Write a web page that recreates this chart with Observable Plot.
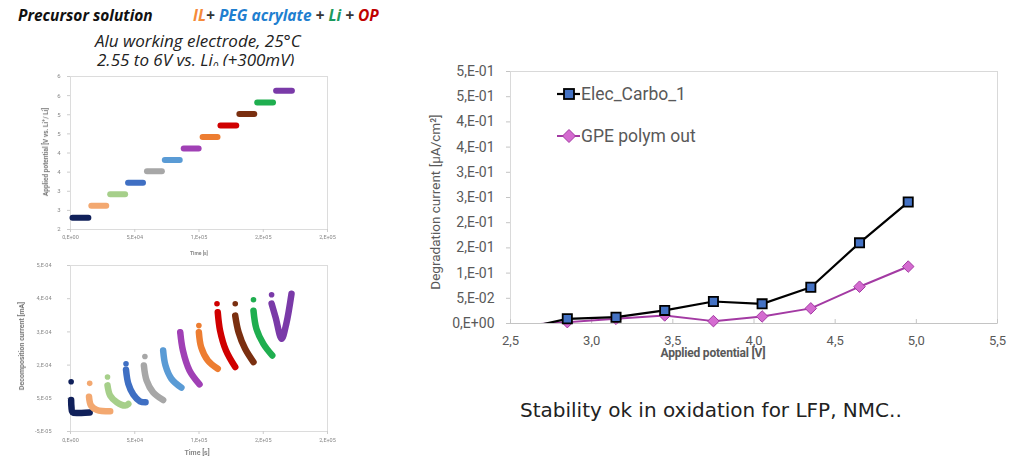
<!DOCTYPE html>
<html><head><meta charset="utf-8">
<script src="https://cdn.jsdelivr.net/npm/d3@7"></script>
<script src="https://cdn.jsdelivr.net/npm/@observablehq/plot@0.6"></script>
<style>
body{margin:0;background:#fff;}
#page{position:relative;width:1022px;height:462px;overflow:hidden;font-family:Roboto,sans-serif;background:#fff;}
.abs{position:absolute;white-space:nowrap;}
.blur{filter:blur(0.45px);}
</style></head><body><div id="page"></div>
<script>
// ---------- Main chart data ----------
const potentials = [2.55, 2.85, 3.15, 3.45, 3.75, 4.05, 4.35, 4.65, 4.95];
const elecCarbo  = [-0.012, 0.0093, 0.0125, 0.026, 0.0437, 0.039, 0.072, 0.160, 0.241];
const gpePolym   = [-0.004, 0.0027, 0.0093, 0.016, 0.0047, 0.014, 0.030, 0.073, 0.113];
const seriesNames = ["Elec_Carbo_1", "GPE polym out"];
const yTicks = [0, 0.05, 0.1, 0.15, 0.2, 0.25, 0.3, 0.35, 0.4, 0.45, 0.5];
const yTickLabels = ["0,E+00","5,E-02","1,E-01","2,E-01","2,E-01","3,E-01","3,E-01","4,E-01","4,E-01","5,E-01","5,E-01"];
const xTicks = [2.5, 3.0, 3.5, 4.0, 4.5, 5.0, 5.5];
const xTickLabels = ["2,5","3,0","3,5","4,0","4,5","5,0","5,5"];

// ---------- Left top chart data (potential steps) ----------
const stepPotentials = [2.31, 2.62, 2.92, 3.22, 3.52, 3.82, 4.12, 4.42, 4.72, 5.02, 5.32, 5.63];
const stepStart = [1550, 16200, 30900, 44800, 59500, 73400, 88100, 102800, 116700, 131400, 145300, 160000];
const stepEnd   = [13900, 27800, 42500, 56400, 71100, 85000, 99700, 114400, 129000, 143000, 157600, 172300];
const stepColors = ["#10205a","#f3a870","#a6cf8a","#3f6fc3","#a7a7a7","#5a9bd5","#a040b5","#ed7d31","#d00000","#7a2f10","#1fae4f","#7a3aa8"];
const potTicks = [2, 2.5, 3, 3.5, 4, 4.5, 5, 5.5, 6];
const potTickLabels = ["2","3","3","4","4","5","5","6","6"];
const timeTicks = [0, 50000, 100000, 150000, 200000];
const timeTickLabels = ["0,E+00","5,E+04","1,E+05","2,E+05","2,E+05"];

// ---------- Left bottom chart data (decomposition current) ----------
const spikeTimes    = [500, 14930, 28800, 43200, 57900, 72100, 85400, 99900, 114000, 128200, 142400, 156500];
const spikeCurrents = [1.0e-4, 9.5e-5, 1.14e-4, 1.54e-4, 1.76e-4, 1.94e-4, 2.49e-4, 2.69e-4, 3.35e-4, 3.35e-4, 3.47e-4, 3.62e-4];
const decayTimes = [
  [500, 770, 1540, 7720, 14930],
  [14400, 16000, 20600, 30900],
  [28800, 30900, 36000, 42500, 45000],
  [43200, 45000, 48900, 54000, 58400],
  [57100, 59200, 64300, 72100],
  [72100, 73900, 78500, 86300],
  [85400, 87500, 92600, 100400],
  [99900, 101700, 106900, 114600],
  [114600, 116400, 121000, 128200],
  [128200, 130800, 135900, 142400],
  [142400, 144700, 150100, 157000],
  [156500, 159600, 164300, 167900, 172000]
];
const decayCurrents = [
  [4.5e-5, 2.3e-5, 8e-6, 6e-6, 7e-6],
  [5.5e-5, 2.8e-5, 1.5e-5, 1.1e-5],
  [8.9e-5, 5.8e-5, 3.8e-5, 2.8e-5, 3.3e-5],
  [1.36e-4, 9.4e-5, 6.1e-5, 4.1e-5, 3.8e-5],
  [1.49e-4, 1.04e-4, 6.8e-5, 4.5e-5],
  [1.94e-4, 1.49e-4, 1.09e-4, 8.2e-5],
  [2.49e-4, 1.94e-4, 1.34e-4, 9.2e-5],
  [2.49e-4, 2.04e-4, 1.64e-4, 1.39e-4],
  [3.09e-4, 2.54e-4, 1.94e-4, 1.44e-4],
  [2.99e-4, 2.49e-4, 1.99e-4, 1.59e-4],
  [3.14e-4, 2.59e-4, 2.14e-4, 1.79e-4],
  [3.35e-4, 2.94e-4, 2.29e-4, 2.74e-4, 3.65e-4]
];
const curTicks = [-5e-5, 5e-5, 1.5e-4, 2.5e-4, 3.5e-4, 4.5e-4];
const curTickLabels = ["-5,E-05","5,E-05","2,E-04","3,E-04","4,E-04","5,E-04"];

const page = document.getElementById("page");
function place(el, left, top) { el.style.position = "absolute"; el.style.left = left + "px"; el.style.top = top + "px"; page.appendChild(el); return el; }
function txt(html, left, top, css) { const d = document.createElement("div"); d.className = "abs"; d.innerHTML = html; d.style.cssText += css; return place(d, left, top); }

// ---------- Header ----------
txt('Precursor solution', 18, 6, "font-family:'Open Sans';font-weight:700;font-style:italic;font-size:15.5px;line-height:18px;color:#111;");
txt('<span style="color:#f58a3a">IL</span><span style="color:#333">+ </span><span style="color:#1f7fd0">PEG acrylate</span><span style="color:#333"> + </span><span style="color:#1a9a5c">Li</span><span style="color:#333"> + </span><span style="color:#c00000">OP</span>', 193, 6, "font-family:'Open Sans';font-weight:700;font-style:italic;font-size:15.5px;line-height:18px;");
txt('Alu working electrode, 25°C', 95, 32, "font-family:'Open Sans';font-style:italic;font-size:17px;line-height:18px;color:#222;");
txt('2.55 to 6V vs. Li<sub style="font-size:10px;line-height:0">0</sub> (+300mV)', 97, 51, "font-family:'Open Sans';font-style:italic;font-size:17px;line-height:18px;color:#222;");

// ---------- Left top chart ----------
const steps = stepPotentials.map((p, i) => ({p, t1: stepStart[i], t2: stepEnd[i], c: stepColors[i]}));
const potMap = new Map(potTicks.map((d, i) => [d, potTickLabels[i]]));
const timeMap = new Map(timeTicks.map((d, i) => [d, timeTickLabels[i]]));
const topChart = Plot.plot({
  width: 340, height: 195, marginLeft: 70, marginRight: 13, marginTop: 10, marginBottom: 32,
  x: {domain: [0, 200000]}, y: {domain: [2, 6]}, color: {type: "identity"},
  style: {fontFamily: "Roboto", background: "#fff"},
  marks: [
    Plot.frame({stroke: "#dcdcdc"}),
    Plot.axisY(potTicks, {tickFormat: d => potMap.get(d), tickSize: 3, tickPadding: 7, fontSize: 6, stroke: "#ccc", fill: "#888", label: null}),
    Plot.axisX(timeTicks, {tickFormat: d => timeMap.get(d), tickSize: 3, tickPadding: 3, fontSize: 5.5, stroke: "#ccc", fill: "#888", label: null}),
    Plot.link(steps, {x1: "t1", x2: "t2", y1: "p", y2: "p", stroke: "c", strokeWidth: 6, strokeLinecap: "round"})
  ]
});
topChart.classList.add("blur");
place(topChart, 0, 66);
txt('Applied potential [V vs. Li<sup>+</sup>/ Li]', 45, 152, "font-size:6.5px;font-weight:700;color:#777;transform:translate(-50%,-50%) rotate(-90deg);filter:blur(0.4px);");
txt('Time [s]', 199, 250, "font-size:5px;font-weight:700;color:#888;transform:translateX(-50%);filter:blur(0.4px);");

// ---------- Left bottom chart ----------
const decRows = decayTimes.flatMap((ts, i) => ts.map((t, j) => ({s: i, t, v: decayCurrents[i][j], c: stepColors[i]})));
const spikes = spikeTimes.map((t, i) => ({t, v: spikeCurrents[i], c: stepColors[i]}));
const curMap = new Map(curTicks.map((d, i) => [d, curTickLabels[i]]));
const botChart = Plot.plot({
  width: 340, height: 207, marginLeft: 70, marginRight: 13, marginTop: 10, marginBottom: 31,
  x: {domain: [0, 200000]}, y: {domain: [-5e-5, 4.5e-4]}, color: {type: "identity"},
  style: {fontFamily: "Roboto", background: "transparent"},
  marks: [
    Plot.frame({stroke: "#dcdcdc"}),
    Plot.axisY(curTicks, {tickFormat: d => curMap.get(d), tickSize: 3, tickPadding: 16, fontSize: 5.5, stroke: "#ccc", fill: "#888", label: null}),
    Plot.axisX(timeTicks, {tickFormat: d => timeMap.get(d), tickSize: 3, tickPadding: 4, fontSize: 5.5, stroke: "#ccc", fill: "#888", label: null}),
    Plot.line(decRows, {x: "t", y: "v", z: "s", stroke: "c", strokeWidth: 6.5, strokeLinecap: "round", strokeLinejoin: "round", curve: "catmull-rom"}),
    Plot.dot(spikes, {x: "t", y: "v", fill: "c", r: 2.8})
  ]
});
botChart.classList.add("blur");
place(botChart, 0, 255);
txt('Decomposition current [mA]', 22, 346, "font-size:7px;font-weight:700;color:#777;transform:translate(-50%,-50%) rotate(-90deg);filter:blur(0.4px);");
txt('Time [s]', 197, 449, "font-size:7px;font-weight:700;color:#888;transform:translateX(-50%);filter:blur(0.4px);");

// ---------- Main chart ----------
const mainRows = potentials.flatMap((p, i) => [
  {series: seriesNames[0], x: p, y: elecCarbo[i]},
  {series: seriesNames[1], x: p, y: gpePolym[i]}
]);
const yMap = new Map(yTicks.map((d, i) => [d, yTickLabels[i]]));
const xMap = new Map(xTicks.map((d, i) => [d, xTickLabels[i]]));
const mainChart = Plot.plot({
  width: 610, height: 310, marginLeft: 110, marginRight: 13, marginTop: 11, marginBottom: 47,
  x: {domain: [2.5, 5.5]}, y: {domain: [0, 0.5]},
  style: {fontFamily: "Roboto", background: "transparent", overflow: "visible"},
  marks: [
    Plot.frame({stroke: "#d9d9d9"}),
    Plot.ruleY([0], {stroke: "#c4c4c4"}),
    Plot.axisY(yTicks, {tickFormat: d => yMap.get(d), tickSize: 4, tickPadding: 12, fontSize: 14, stroke: "#c4c4c4", fill: "#595959", label: null}),
    Plot.axisX(xTicks, {text: null, tickSize: -4, stroke: "#c4c4c4", label: null}),
    Plot.axisX(xTicks, {tickFormat: d => xMap.get(d), tickSize: 0, tickPadding: 12, fontSize: 13, fill: "#595959", label: null}),
    Plot.line(mainRows.filter(d => d.series === seriesNames[1]), {x: "x", y: "y", stroke: "#a33aa3", strokeWidth: 2, clip: true}),
    Plot.line(mainRows.filter(d => d.series === seriesNames[0]), {x: "x", y: "y", stroke: "#000", strokeWidth: 2.2, clip: true}),
    Plot.dot(mainRows.filter(d => d.series === seriesNames[1] && d.y >= 0), {x: "x", y: "y", symbol: "diamond2", r: 5.2, fill: "#d46bd0", stroke: "#a33aa3", strokeWidth: 1}),
    Plot.dot(mainRows.filter(d => d.series === seriesNames[0] && d.y >= 0), {x: "x", y: "y", symbol: "square", r: 5.2, fill: "#4472c4", stroke: "#000", strokeWidth: 1.8})
  ]
});
place(mainChart, 400, 60);
txt('Degradation current [µA/cm²]', 435, 202, "font-size:13.5px;color:#595959;transform:translate(-50%,-50%) rotate(-90deg);");
txt('Applied potential [V]', 713, 346, "font-size:12px;line-height:14px;font-weight:700;color:#595959;transform:translateX(-50%);letter-spacing:-0.2px;");

// Legend
function legendItem(name, y, marker) {
  const d = document.createElement("div");
  d.className = "abs";
  d.innerHTML = `<svg width="26" height="16" style="vertical-align:middle">${marker}</svg><span style="vertical-align:middle;font-size:17.5px;color:#595959;margin-left:-1px">${name}</span>`;
  return place(d, 556, y - 11);
}
legendItem(seriesNames[0], 94, '<line x1="1" y1="8" x2="24" y2="8" stroke="#000" stroke-width="2.2"/><rect x="8" y="3" width="10" height="10" fill="#4472c4" stroke="#000" stroke-width="1.8"/>');
legendItem(seriesNames[1], 136, '<line x1="1" y1="8" x2="24" y2="8" stroke="#a33aa3" stroke-width="2"/><path d="M13,1.5L19.5,8L13,14.5L6.5,8Z" fill="#d46bd0" stroke="#a33aa3" stroke-width="1"/>');

// Caption
txt('Stability ok in oxidation for LFP, NMC..', 520, 398, "font-family:'DejaVu Sans';font-size:20px;color:#222;");
</script>
</body></html>
